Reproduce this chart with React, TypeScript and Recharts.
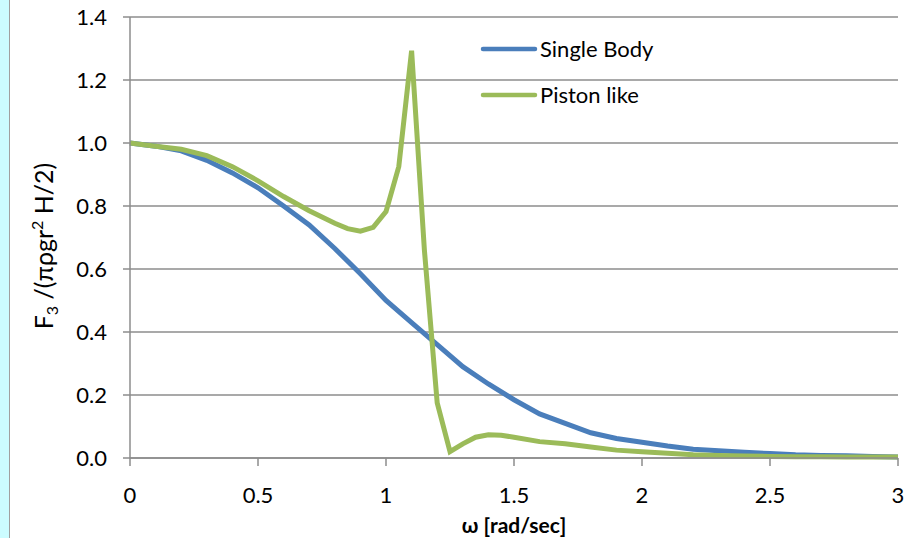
import React from 'react';
import { LineChart, Line, XAxis, YAxis, CartesianGrid } from 'recharts';

const singleOmega = [0, 0.1, 0.2, 0.3, 0.4, 0.5, 0.6, 0.7, 0.8, 0.9, 1.0, 1.1, 1.2, 1.3, 1.4, 1.5, 1.6, 1.7, 1.8, 1.9, 2.0, 2.1, 2.2, 2.3, 2.4, 2.5, 2.6, 2.7, 2.8, 2.9, 3.0];
const singleBody = [1.0, 0.99, 0.975, 0.945, 0.905, 0.858, 0.8, 0.74, 0.665, 0.585, 0.5, 0.43, 0.36, 0.29, 0.235, 0.185, 0.14, 0.11, 0.08, 0.062, 0.05, 0.038, 0.028, 0.023, 0.018, 0.014, 0.01, 0.008, 0.007, 0.005, 0.003];

const pistonOmega = [0, 0.1, 0.2, 0.3, 0.4, 0.5, 0.6, 0.7, 0.8, 0.85, 0.9, 0.95, 1.0, 1.05, 1.1, 1.15, 1.2, 1.25, 1.3, 1.35, 1.4, 1.45, 1.5, 1.6, 1.7, 1.8, 1.9, 2.0, 2.1, 2.2, 2.3, 2.4, 2.5, 2.6, 2.7, 2.8, 2.9, 3.0];
const pistonLike = [1.0, 0.99, 0.98, 0.96, 0.925, 0.88, 0.83, 0.785, 0.745, 0.728, 0.72, 0.732, 0.782, 0.925, 1.293, 0.66, 0.175, 0.02, 0.045, 0.066, 0.074, 0.072, 0.066, 0.052, 0.045, 0.035, 0.025, 0.02, 0.015, 0.01, 0.008, 0.006, 0.005, 0.004, 0.004, 0.003, 0.003, 0.003];

const xTicks = [0, 0.5, 1, 1.5, 2, 2.5, 3];
const yTicks = [0, 0.2, 0.4, 0.6, 0.8, 1.0, 1.2, 1.4];

const seriesNames = ['Single Body', 'Piston like'];
const seriesColors = ['#4a7ebb', '#9bbb59'];

const singleData = singleOmega.map((w, i) => ({ w, v: singleBody[i] }));
const pistonData = pistonOmega.map((w, i) => ({ w, v: pistonLike[i] }));

const FONT = 'Lato, "Open Sans", sans-serif';

const YLabel = () => (
  <text
    x={0}
    y={0}
    transform="translate(53,246) rotate(-90)"
    textAnchor="middle"
    fontFamily={FONT}
    fontSize={25}
    fill="#000"
  >
    <tspan>F</tspan>
    <tspan fontSize={16} dy={5}>3</tspan>
    <tspan dy={-5}> /(πρgr</tspan>
    <tspan fontSize={16} dy={-10}>2</tspan>
    <tspan dy={10}> H/2)</tspan>
  </text>
);

export default function App() {
  return (
    <div style={{ position: 'fixed', left: 0, top: 0, width: 913, height: 538, background: '#fff' }}>
      <div style={{ position: 'absolute', left: 0, top: 0, width: 9, height: 538, background: '#ccfcff', borderRight: '1px solid #a0a0a0' }} />
      <div style={{ position: 'absolute', left: 0, top: 0 }}>
        <LineChart width={913} height={538} margin={{ top: 17, right: 15, bottom: 0, left: 0 }}>
          <CartesianGrid horizontal vertical={false} stroke="#8c8c8c" strokeWidth={1.5} />
          <XAxis
            type="number"
            dataKey="w"
            domain={[0, 3]}
            ticks={xTicks}
            height={80}
            allowDuplicatedCategory={false}
            tickFormatter={(v: number) => String(v)}
            stroke="#8c8c8c"
            strokeWidth={1.5}
            tickSize={8}
            tickMargin={21}
            tick={{ fill: '#000', fontSize: 22, fontFamily: FONT }}
            label={{ value: 'ω [rad/sec]', position: 'insideBottom', offset: 5, style: { fontWeight: 'bold', fontSize: 21, fill: '#000', fontFamily: FONT } }}
          />
          <YAxis
            type="number"
            dataKey="v"
            domain={[0, 1.4]}
            ticks={yTicks}
            width={130}
            tickFormatter={(v: number) => v.toFixed(1)}
            stroke="#8c8c8c"
            strokeWidth={1.5}
            tickSize={7}
            tickMargin={16}
            tick={{ fill: '#000', fontSize: 22, fontFamily: FONT }}
          />
          <Line data={singleData} dataKey="v" type="linear" stroke={seriesColors[0]} strokeWidth={5} dot={false} isAnimationActive={false} name={seriesNames[0]} />
          <Line data={pistonData} dataKey="v" type="linear" stroke={seriesColors[1]} strokeWidth={5} dot={false} isAnimationActive={false} name={seriesNames[1]} />
          <YLabel />
          {seriesNames.map((n, i) => (
            <g key={n}>
              <line x1={483} x2={535} y1={49 + i * 46} y2={49 + i * 46} stroke={seriesColors[i]} strokeWidth={4.5} strokeLinecap="round" />
              <text x={540} y={49 + i * 46} dy="0.35em" fontFamily={FONT} fontSize={22} fill="#000">{n}</text>
            </g>
          ))}
        </LineChart>
      </div>
    </div>
  );
}
